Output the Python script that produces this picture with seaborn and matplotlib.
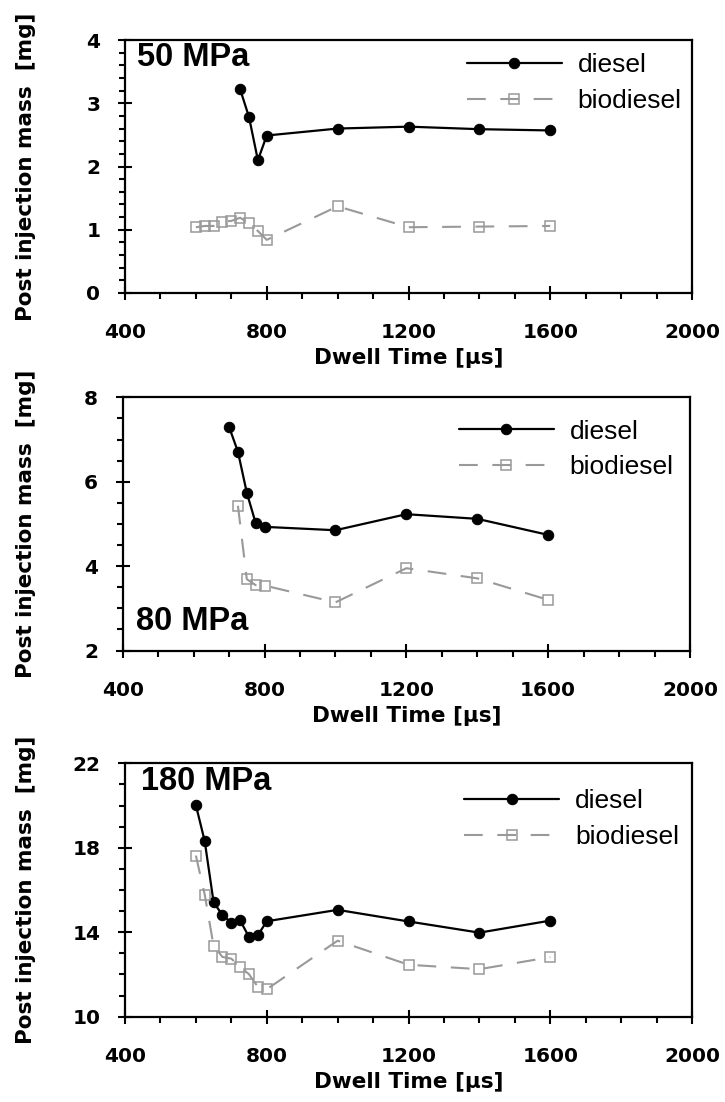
import numpy as np
import pandas as pd
import matplotlib
matplotlib.use("Agg")
import matplotlib.pyplot as plt
import seaborn as sns
from matplotlib.ticker import MultipleLocator, FixedLocator

# ---------------- data ----------------
x50_diesel = [725, 750, 775, 800, 1000, 1200, 1400, 1600]
y50_diesel = [3.22, 2.78, 2.10, 2.49, 2.60, 2.63, 2.59, 2.57]
x50_bio = [600, 625, 650, 675, 700, 725, 750, 775, 800, 1000, 1200, 1400, 1600]
y50_bio = [1.04, 1.06, 1.06, 1.13, 1.14, 1.19, 1.10, 0.98, 0.84, 1.37, 1.04, 1.05, 1.06]

x80_diesel = [700, 725, 750, 775, 800, 1000, 1200, 1400, 1600]
y80_diesel = [7.30, 6.71, 5.74, 5.02, 4.93, 4.85, 5.23, 5.12, 4.74]
x80_bio = [725, 750, 775, 800, 1000, 1200, 1400, 1600]
y80_bio = [5.43, 3.69, 3.55, 3.54, 3.14, 3.95, 3.71, 3.20]

x180_diesel = [600, 625, 650, 675, 700, 725, 750, 775, 800, 1000, 1200, 1400, 1600]
y180_diesel = [20.02, 18.31, 15.42, 14.81, 14.46, 14.56, 13.77, 13.86, 14.52, 15.06, 14.51, 13.98, 14.55]
x180_bio = [600, 625, 650, 675, 700, 725, 750, 775, 800, 1000, 1200, 1400, 1600]
y180_bio = [17.63, 15.78, 13.35, 12.83, 12.75, 12.36, 12.01, 11.41, 11.30, 13.60, 12.46, 12.25, 12.82]

pressure_labels = ["50 MPa", "80 MPa", "180 MPa"]
series_names = ["diesel", "biodiesel"]
x_ticks = [400, 800, 1200, 1600, 2000]
y_limits = [(0, 4), (2, 8), (10, 22)]
y_ticks = [[0, 1, 2, 3, 4], [2, 4, 6, 8], [10, 14, 18, 22]]
y_minor = [0.2, 0.5, 1]
xlabel_text = "Dwell Time [µs]"
ylabel_text = "Post injection mass  [mg]"

# ---------------- style ----------------
sns.set_theme(style="ticks")
plt.rcParams["font.family"] = ["DejaVu Sans"]
for k in ["text.color", "axes.labelcolor", "xtick.color", "ytick.color", "axes.edgecolor"]:
    plt.rcParams[k] = "black"
plt.rcParams["axes.linewidth"] = 1.6

fig = plt.figure(figsize=(7.25, 11.02), dpi=100)
W, H = 725, 1102
# axes boxes in pixels: left, right, top, bottom
boxes = [(125, 692, 40, 293), (122.7, 690, 397.3, 650.5), (125, 692, 763.3, 1016.7)]
label_pos = [(0.021, 0.929), (0.023, 0.115), (0.029, 0.928)]
legend_anchor = [(1.014, 1.02), (1.004, 0.985), (1.01, 0.97)]

panels = [
    (x50_diesel, y50_diesel, x50_bio, y50_bio),
    (x80_diesel, y80_diesel, x80_bio, y80_bio),
    (x180_diesel, y180_diesel, x180_bio, y180_bio),
]

gray = "#999999"
for i, (xd, yd, xb, yb) in enumerate(panels):
    l, r, t, b = boxes[i]
    ax = fig.add_axes([l / W, 1 - b / H, (r - l) / W, (b - t) / H])
    df_d = pd.DataFrame({"x": xd, "y": yd})
    df_b = pd.DataFrame({"x": xb, "y": yb})
    sns.lineplot(data=df_d, x="x", y="y", ax=ax, color="black", lw=1.6,
                 marker="o", markersize=7.5, markerfacecolor="black",
                 markeredgecolor="black", label=series_names[0], sort=False)
    sns.lineplot(data=df_b, x="x", y="y", ax=ax, color=gray, lw=1.5,
                 linestyle=(0, (9, 7)), marker="s", markersize=7,
                 markerfacecolor="none", markeredgecolor=gray,
                 markeredgewidth=1.1, label=series_names[1], sort=False)
    ax.set_xlim(400, 2000)
    ax.set_ylim(*y_limits[i])
    ax.set_xticks(x_ticks)
    ax.xaxis.set_minor_locator(MultipleLocator(100))
    ax.yaxis.set_major_locator(FixedLocator(y_ticks[i]))
    ax.yaxis.set_minor_locator(MultipleLocator(y_minor[i]))
    ax.tick_params(which="major", direction="inout", length=9.5, width=1.5,
                   labelsize=14.5, colors="black")
    ax.tick_params(which="minor", direction="out", length=4.3, width=1.5, colors="black")
    ax.tick_params(axis="x", which="major", pad=17)
    ax.tick_params(axis="y", which="major", pad=13)
    for lab in ax.get_xticklabels() + ax.get_yticklabels():
        lab.set_fontweight("bold")
    ax.set_xlabel(xlabel_text, fontsize=15.5, fontweight="bold", labelpad=4.5)
    ax.set_ylabel(ylabel_text, fontsize=15.5, fontweight="bold")
    ax.yaxis.set_label_coords((26 - l) / (r - l), 0.5)
    ax.yaxis.label.set_verticalalignment("center")
    ax.text(label_pos[i][0], label_pos[i][1], pressure_labels[i],
            transform=ax.transAxes, ha="left", va="center",
            fontsize=23.5, fontweight="bold", family=["Liberation Sans"])
    for s in ax.spines.values():
        s.set_visible(True)
        s.set_linewidth(1.6)
        s.set_color("black")
    ax.legend(loc="upper right", bbox_to_anchor=legend_anchor[i], frameon=False,
              prop={"family": "Liberation Sans", "size": 19},
              handlelength=3.6, handletextpad=0.6,
              labelspacing=0.45, borderaxespad=0.3)

fig.savefig("out.png", dpi=100)
